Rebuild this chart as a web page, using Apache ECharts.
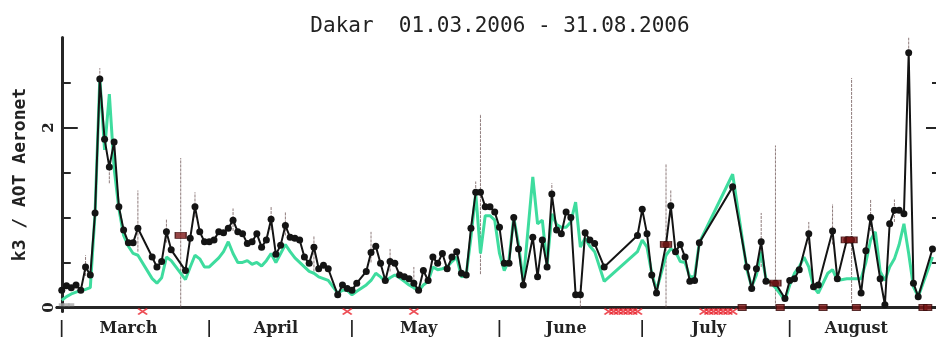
<!DOCTYPE html>
<html>
<head>
<meta charset="utf-8">
<script src="https://cdn.jsdelivr.net/npm/echarts@6/dist/echarts.min.js"></script>
<style>
  html, body { margin: 0; padding: 0; background: #ffffff; }
  #chart { width: 936px; height: 339px; }
</style>
</head>
<body>
<div id="chart"></div>
<script>
// Day index along the x axis: 0 = 01.03.2006, 183 = 31.08.2006
const monthStartDays = [0, 31, 61, 92, 122, 153];
const monthMidDays = [14, 45, 75, 106, 136, 167];
const monthNames = ['March', 'April', 'May', 'June', 'July', 'August'];

// y axis ticks
const yMinorTicks = [0.5, 1, 1.5, 2.5];
const yMajorTicks = [0, 2];

// k3 retrieval (black line with dots)
const k3Days = [0,1,2,3,4,5,6,7,8,9,10,11,12,13,14,15,16,19,20,21,22,23,26,27,28,29,30,
  31,32,33,34,35,36,37,38,39,40,41,42,43,44,45,46,47,48,49,50,51,52,53,54,55,56,58,59,60,
  61,62,64,65,66,67,68,69,70,71,72,73,74,75,76,77,78,79,80,81,82,83,84,85,86,87,88,89,90,91,
  92,93,94,95,96,97,99,100,101,102,103,104,105,106,107,108,109,110,111,112,114,121,
  122,123,124,125,127,128,129,130,131,132,133,134,141,144,145,146,147,148,150,152,
  153,154,155,157,158,159,162,163,165,166,168,169,170,172,173,174,175,176,177,178,179,180,183];
const k3Values = [0.19,0.24,0.22,0.25,0.19,0.45,0.36,1.05,2.54,1.87,1.56,1.84,1.12,0.86,0.72,0.72,0.88,0.56,0.45,0.51,0.84,0.64,0.41,0.77,1.12,0.84,0.73,
  0.73,0.75,0.84,0.83,0.88,0.97,0.84,0.82,0.71,0.73,0.82,0.67,0.75,0.98,0.59,0.69,0.91,0.78,0.77,0.75,0.56,0.49,0.67,0.43,0.47,0.43,0.14,0.25,0.21,
  0.19,0.27,0.40,0.61,0.68,0.49,0.30,0.51,0.49,0.36,0.34,0.32,0.27,0.19,0.41,0.30,0.56,0.49,0.60,0.43,0.56,0.62,0.38,0.36,0.88,1.28,1.28,1.12,1.12,1.06,
  0.89,0.49,0.49,1.00,0.65,0.25,0.78,0.34,0.75,0.45,1.26,0.86,0.82,1.06,1.00,0.14,0.14,0.83,0.75,0.71,0.45,0.80,
  1.09,0.82,0.36,0.16,0.70,1.13,0.62,0.70,0.56,0.29,0.30,0.72,1.34,0.45,0.21,0.43,0.73,0.29,0.27,0.10,
  0.30,0.32,0.42,0.82,0.23,0.25,0.85,0.32,0.75,0.75,0.16,0.63,1.00,0.32,0.03,0.93,1.08,1.08,1.04,2.83,0.27,0.12,0.65];

// AOT Aeronet (green line)
const aotDays = [0,1,2,3,4,5,6,7,8,9,10,11,12,13,14,15,16,19,20,21,22,23,26,27,28,29,30,
  31,32,33,34,35,36,37,38,39,40,41,42,43,44,45,46,47,48,49,50,51,52,53,54,55,56,58,59,60,
  61,62,64,65,66,67,68,69,70,71,72,73,74,75,76,77,78,79,80,81,82,83,84,85,86,87,88,89,90,91,
  92,93,94,95,96,97,99,100,101,102,103,104,105,106,107,108,109,110,111,112,114,121,
  122,123,124,125,127,128,129,130,131,132,133,134,141,144,145,146,147,148,150,152,
  153,154,155,156,157,158,159,161,162,163,165,166,168,169,170,171,172,173,174,175,176,177,178,179,180,183];
const aotValues = [0.08,0.12,0.15,0.17,0.19,0.20,0.22,1.05,2.55,1.75,2.37,1.55,1.10,0.80,0.68,0.60,0.58,0.32,0.27,0.33,0.56,0.52,0.31,0.45,0.58,0.54,0.45,
  0.45,0.50,0.55,0.62,0.73,0.60,0.50,0.50,0.52,0.48,0.50,0.46,0.52,0.60,0.50,0.60,0.70,0.62,0.55,0.50,0.45,0.40,0.38,0.34,0.32,0.30,0.16,0.19,0.19,
  0.14,0.18,0.25,0.30,0.38,0.34,0.29,0.33,0.36,0.33,0.29,0.25,0.22,0.18,0.25,0.29,0.45,0.42,0.43,0.45,0.51,0.56,0.34,0.36,0.78,1.27,0.60,1.02,1.02,0.97,
  0.60,0.41,0.53,1.00,0.70,0.29,1.45,0.93,0.97,0.47,1.04,0.92,0.89,0.89,0.95,1.17,0.67,0.77,0.68,0.62,0.29,0.62,
  0.75,0.67,0.38,0.19,0.58,0.65,0.62,0.51,0.50,0.34,0.34,0.72,1.48,0.42,0.23,0.36,0.62,0.32,0.22,0.08,
  0.25,0.38,0.45,0.56,0.45,0.23,0.16,0.38,0.42,0.30,0.32,0.32,0.32,0.50,0.75,0.84,0.40,0.30,0.45,0.54,0.70,0.93,0.60,0.23,0.12,0.56];

// flagged k3 retrievals (dark red boxes)
const flagDays = [25, 127, 150, 165, 166];
const flagValues = [0.80, 0.70, 0.27, 0.75, 0.75];

// uncertainty bars of the k3 retrieval
const errDays = [5, 8, 10, 16, 22, 25, 28, 36, 44, 47, 53, 65, 69, 74, 87, 88, 103, 109, 127, 128, 147, 150, 157, 162, 166, 170, 175, 178];
const errLow  = [0.35, 2.42, 1.38, 0.62, 0.72, 0.00, 1.00, 0.85, 0.86, 0.80, 0.40, 0.50, 0.40, 0.20, 1.15, 0.37, 1.15, 0.00, 0.00, 1.00, 0.45, 0.00, 0.70, 0.70, 0.05, 0.85, 0.95, 2.70];
const errHigh = [0.58, 2.66, 1.65, 1.30, 0.98, 1.66, 1.28, 1.10, 1.12, 1.06, 0.80, 0.84, 0.65, 0.45, 1.40, 2.15, 1.38, 0.25, 1.60, 1.30, 1.05, 1.80, 0.95, 1.15, 2.55, 1.20, 1.20, 3.00];

// days marked along the time axis
const crossDays = [17, 60, 74, 115, 116, 117, 118, 119, 120, 121, 135, 136, 137, 138, 139, 140, 141];
const zeroFlagDays = [143, 151, 160, 167, 181, 182];
const greyDays = [0, 1, 2];

// visible window: the right frame of the plot lies just beyond the page edge
const Y_MIN = -0.045, Y_MAX = 3;
const X_MIN = -1, X_MAX = 183.74;
const FRAME = '#262626';

const pairs = (xs, ys) => xs.map((d, i) => [d, ys[i]]);

const chart = echarts.init(document.getElementById('chart'), null, { renderer: 'canvas' });

const yCommon = { type: 'value', min: Y_MIN, max: Y_MAX, splitLine: { show: false } };

chart.setOption({
  animation: false,
  backgroundColor: '#ffffff',
  title: {
    text: 'Dakar  01.03.2006 - 31.08.2006',
    left: 495, top: 11, textAlign: 'center',
    textStyle: { fontFamily: 'DejaVu Sans Mono', fontSize: 21, fontWeight: 'normal', color: '#222' }
  },
  grid: { left: 57, top: 37.5, right: 0, height: 274 },
  xAxis: [
    {
      type: 'value', min: X_MIN, max: X_MAX, position: 'bottom',
      axisLine: { lineStyle: { color: FRAME, width: 3 } },
      axisTick: { show: false },
      splitLine: { show: false },
      axisLabel: {
        customValues: monthStartDays.concat(monthMidDays),
        margin: 9,
        fontFamily: 'DejaVu Serif', fontWeight: 'bold', fontSize: 16, color: '#222',
        formatter: v => {
          if (monthStartDays.indexOf(v) >= 0) return '|';
          const k = monthMidDays.indexOf(v);
          return k >= 0 ? monthNames[k] : '';
        }
      }
    },
    {
      type: 'value', min: X_MIN, max: X_MAX, position: 'top',
      axisLine: { lineStyle: { color: FRAME, width: 3 } },
      axisTick: { show: false }, axisLabel: { show: false }, splitLine: { show: false }
    }
  ],
  yAxis: [
    Object.assign({}, yCommon, {
      position: 'left',
      name: 'k3 / AOT Aeronet', nameLocation: 'middle', nameRotate: 90, nameGap: 28,
      nameTextStyle: { fontFamily: 'DejaVu Sans Mono', fontWeight: 'bold', fontSize: 18, color: '#222' },
      axisLine: { lineStyle: { color: FRAME, width: 3 } },
      axisTick: { inside: true, length: 9, customValues: yMinorTicks, lineStyle: { color: FRAME, width: 2 } },
      axisLabel: {
        customValues: yMajorTicks, rotate: 90, margin: 0,
        fontFamily: 'DejaVu Serif', fontWeight: 'bold', fontSize: 15, color: '#222',
        formatter: v => String(v)
      }
    }),
    Object.assign({}, yCommon, {
      position: 'left',
      axisLine: { show: false },
      axisTick: { inside: true, length: 16, customValues: yMajorTicks, lineStyle: { color: FRAME, width: 2 } },
      axisLabel: { show: false }
    }),
    Object.assign({}, yCommon, {
      position: 'right',
      axisLine: { show: false },
      axisTick: { inside: true, length: 4, customValues: yMinorTicks, lineStyle: { color: FRAME, width: 2 } },
      axisLabel: { show: false }
    }),
    Object.assign({}, yCommon, {
      position: 'right',
      axisLine: { show: false },
      axisTick: { inside: true, length: 10, customValues: yMajorTicks, lineStyle: { color: FRAME, width: 2 } },
      axisLabel: { show: false }
    })
  ],
  series: [
    {
      // uncertainty bars
      type: 'custom', name: 'k3 error', z: 1, clip: true,
      data: errDays.map((d, i) => [d, errLow[i], errHigh[i]]),
      renderItem: (params, api) => {
        const lo = api.coord([api.value(0), api.value(1)]);
        const hi = api.coord([api.value(0), api.value(2)]);
        return {
          type: 'line',
          shape: { x1: lo[0], y1: lo[1], x2: hi[0], y2: hi[1] },
          style: { stroke: 'rgba(105,80,80,0.75)', lineWidth: 1, lineDash: [3, 1] }
        };
      }
    },
    {
      type: 'line', name: 'AOT Aeronet', z: 2,
      data: pairs(aotDays, aotValues),
      symbol: 'none',
      lineStyle: { color: '#3edc9e', width: 3 }
    },
    {
      type: 'line', name: 'k3', z: 3,
      data: pairs(k3Days, k3Values),
      symbol: 'circle', symbolSize: 7,
      itemStyle: { color: '#141414' },
      lineStyle: { color: '#141414', width: 2 }
    },
    {
      type: 'scatter', name: 'flagged', z: 4,
      data: pairs(flagDays, flagValues),
      symbol: 'rect', symbolSize: [11, 6],
      itemStyle: { color: '#7d1717', borderColor: '#3a0a0a', borderWidth: 1 }
    },
    {
      type: 'scatter', name: 'missing', z: 5, clip: false,
      data: crossDays.map(d => [d, Y_MIN]),
      symbol: 'path://M0,0L10,7M10,0L0,7', symbolSize: [9, 6],
      itemStyle: { color: 'rgba(0,0,0,0)', borderColor: '#e8202a', borderWidth: 1.8 }
    },
    {
      type: 'scatter', name: 'zero', z: 5, clip: false,
      data: zeroFlagDays.map(d => [d, 0]),
      symbol: 'rect', symbolSize: [8, 6],
      itemStyle: { color: '#7d1717', borderColor: '#3a0a0a', borderWidth: 1 }
    },
    {
      type: 'scatter', name: 'grey', z: 5, clip: false,
      data: greyDays.map(d => [d, 0.03]),
      symbol: 'rect', symbolSize: [6, 3],
      itemStyle: { color: '#a8a8a8' }
    }
  ]
});
</script>
</body>
</html>
